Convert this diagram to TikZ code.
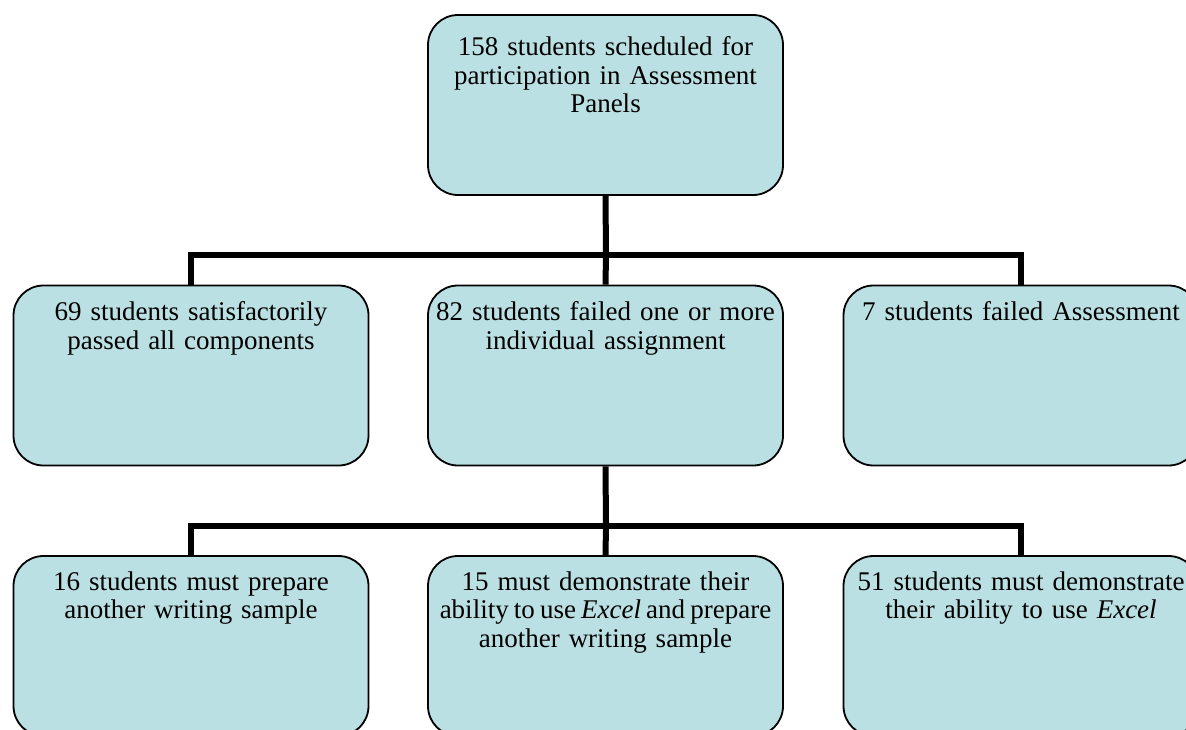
\documentclass[tikz,border=0pt]{standalone}
\usepackage{fontspec}
\setmainfont{Liberation Serif}
\definecolor{boxblue}{HTML}{BBE0E3}
\tikzset{
  box/.style={draw=black, line width=1.8pt, fill=boxblue, rounded corners=30pt,
    minimum width=355pt, minimum height=180pt, inner sep=0pt},
  txt/.style={anchor=north, inner sep=0pt, align=center, text width=380pt,
    font=\fontsize{27}{28.5}\selectfont},
  conn/.style={draw=black, line width=6pt},
}
\begin{document}
\begin{tikzpicture}[x=1pt,y=-1pt]
\useasboundingbox (0,0) rectangle (1186,729);
\clip (0,0) rectangle (1186,729);
\fill[white] (0,0) rectangle (1186,729);

\coordinate (bus1) at (606,255);
\coordinate (bus2) at (606,525.5);

% boxes
\node[box] (top) at (605.5,105) {};
\node[box] (left) at (191,375.5) {};
\node[box] (mid) at (605.5,375.5) {};
\node[box] (right) at (1021,375.5) {};
\node[box] (bl) at (191,646) {};
\node[box] (bm) at (605.5,646) {};
\node[box] (br) at (1021,646) {};

% connectors
\draw[conn] (top.south) -- (bus1);
\draw[conn] (left.north) |- (bus1) -| (right.north);
\draw[conn] (bus1) -- (mid.north);
\draw[conn] (mid.south) -- (bus2);
\draw[conn] (bl.north) |- (bus2) -| (br.north);
\draw[conn] (bus2) -- (bm.north);

% texts
\node[txt] (ttop) at ([yshift=-22.5pt]top.north) {158 students scheduled for\\participation in Assessment\\Panels};
\node[txt] (tleft) at ([yshift=-17pt]left.north) {69 students satisfactorily\\passed all components};
\node[txt] (tmid) at ([yshift=-17pt]mid.north) {82 students failed one or more\\individual assignment};
\node[txt] (tright) at ([yshift=-17pt]right.north) {7 students failed Assessment};
\node[txt] (tbl) at ([yshift=-16pt]bl.north) {16 students must prepare\\another writing sample};
\node[txt] (tbm) at ([yshift=-16pt]bm.north) {15 must demonstrate their\\{\spaceskip=0.19em\relax ability to use \textit{Excel} and prepare}\\another writing sample};
\node[txt] (tbr) at ([yshift=-16pt]br.north) {51 students must demonstrate\\their ability to use \textit{Excel}};
\end{tikzpicture}
\end{document}
